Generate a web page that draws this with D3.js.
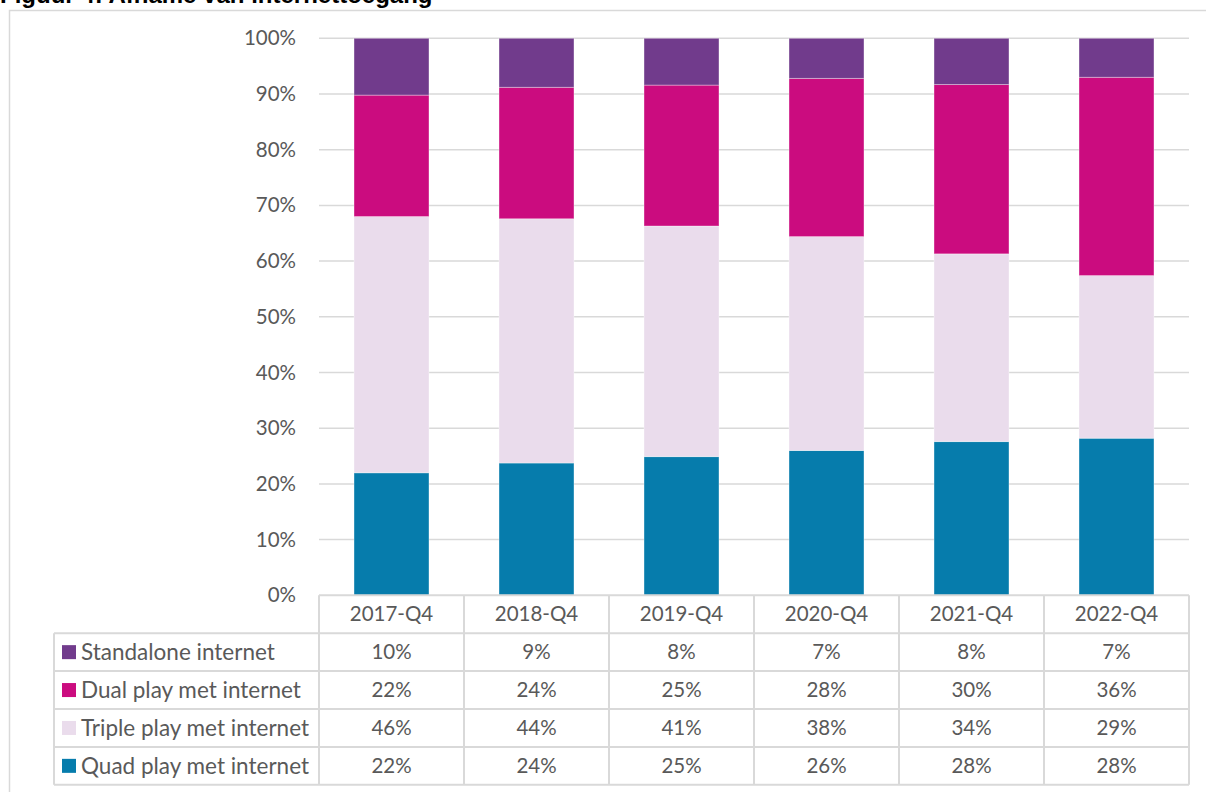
<!DOCTYPE html>
<html>
<head>
<meta charset="utf-8">
<script src="https://cdn.jsdelivr.net/npm/d3@7"></script>
<style>
	body { margin: 0; background: #fff; }
	svg { display: block; }
</style>
</head>
<body>
<div id="chart"></div>
<script>
const categories = ['2017-Q4', '2018-Q4', '2019-Q4', '2020-Q4', '2021-Q4', '2022-Q4'];
const seriesNames = ['Standalone internet', 'Dual play met internet', 'Triple play met internet', 'Quad play met internet'];
const seriesColors = ['#713b8c', '#cb0c7f', '#eadcec', '#067cac'];

const standalone = [10.2, 8.8, 8.4, 7.2, 8.3, 7.0];
const dualPlay = [21.8, 23.6, 25.3, 28.4, 30.4, 35.6];
const triplePlay = [46.0, 43.85, 41.4, 38.4, 33.7, 29.2];
const quadPlay = [22.0, 23.75, 24.9, 26.0, 27.6, 28.2];

const yTicks = [0, 10, 20, 30, 40, 50, 60, 70, 80, 90, 100];

const W = 1206;
const H = 792;
const textColor = '#595959';
const gridColor = '#d9d9d9';
const font = 'Lato, "Open Sans", sans-serif';
const numSize = '20.5px';
const labelSize = '22.5px';

const svg = d3
	.select('#chart')
	.append('svg')
	.attr('width', W)
	.attr('height', H);

// title, mostly cut off at the top
svg
	.append('text')
	.attr('x', 0)
	.attr('y', 2.5)
	.attr('font-family', 'Liberation Sans, Arial, sans-serif')
	.attr('font-weight', 'bold')
	.attr('font-size', '24px')
	.attr('fill', '#000')
	.text('Figuur 4: Afname van internettoegang');

// outer frame
svg
	.append('rect')
	.attr('x', 9.5)
	.attr('y', 10.5)
	.attr('width', 1210)
	.attr('height', 800)
	.attr('fill', 'none')
	.attr('stroke', gridColor)
	.attr('stroke-width', 1.5);

const plot = { left: 319, right: 1189, top: 38.3, bottom: 595.3 };

const x = d3.scaleBand().domain(categories).range([plot.left, plot.right]).paddingInner(0.483).paddingOuter(0.2415);
const band = d3.scaleBand().domain(categories).range([plot.left, plot.right]);
const y = d3.scaleLinear().domain([0, 100]).range([plot.bottom, plot.top]);

// gridlines
svg
	.append('g')
	.selectAll('line')
	.data(yTicks.filter((t) => t > 0))
	.enter()
	.append('line')
	.attr('x1', plot.left)
	.attr('x2', plot.right)
	.attr('y1', (d) => y(d))
	.attr('y2', (d) => y(d))
	.attr('stroke', gridColor)
	.attr('stroke-width', 1.5);

// y axis labels
const yAxis = svg
	.append('g')
	.attr('transform', `translate(${plot.left - 23},0)`)
	.call(d3.axisLeft(y).tickValues(yTicks).tickSize(0).tickPadding(0).tickFormat((d) => d + '%'));
yAxis.select('.domain').remove();
yAxis
	.selectAll('text')
	.attr('font-family', font)
	.attr('font-size', numSize)
	.attr('fill', textColor);

// stacked bars
const table = categories.map((c, i) => ({
	cat: c,
	quad: quadPlay[i],
	triple: triplePlay[i],
	dual: dualPlay[i],
	standalone: standalone[i],
}));
const keys = ['quad', 'triple', 'dual', 'standalone'];
const keyColor = { standalone: seriesColors[0], dual: seriesColors[1], triple: seriesColors[2], quad: seriesColors[3] };
const stacked = d3.stack().keys(keys)(table);

svg
	.append('g')
	.selectAll('g')
	.data(stacked)
	.enter()
	.append('g')
	.attr('fill', (s) => keyColor[s.key])
	.selectAll('rect')
	.data((s) => s)
	.enter()
	.append('rect')
	.attr('x', (d) => x(d.data.cat))
	.attr('width', x.bandwidth())
	.attr('y', (d) => y(d[1]))
	.attr('height', (d) => y(d[0]) - y(d[1]))
	.attr('stroke', 'rgba(255,255,255,0.35)')
	.attr('stroke-width', 1);

// data table below the plot
const rowH = 37.9;
const tableLeft = 54;
const tableG = svg.append('g').attr('font-family', font).attr('fill', textColor);
const rows = [standalone, dualPlay, triplePlay, quadPlay];
const rowTop = (r) => plot.bottom + rowH * (r + 1);

// header row cells
tableG
	.selectAll('.hdr')
	.data(categories)
	.enter()
	.append('text')
	.attr('class', 'hdr')
	.attr('x', (d) => band(d) + band.bandwidth() / 2)
	.attr('y', plot.bottom + rowH / 2)
	.attr('dy', '0.35em')
	.attr('text-anchor', 'middle')
	.attr('font-size', numSize)
	.text((d) => d);

// series rows
rows.forEach((vals, r) => {
	const cy = rowTop(r) + rowH / 2;
	tableG
		.append('rect')
		.attr('x', 62)
		.attr('y', cy - 7)
		.attr('width', 14)
		.attr('height', 14)
		.attr('fill', seriesColors[r]);
	tableG
		.append('text')
		.attr('x', 81)
		.attr('y', cy)
		.attr('dy', '0.35em')
		.attr('font-size', labelSize)
		.text(seriesNames[r]);
	tableG
		.selectAll(null)
		.data(vals)
		.enter()
		.append('text')
		.attr('x', (d, i) => band(categories[i]) + band.bandwidth() / 2)
		.attr('y', cy)
		.attr('dy', '0.35em')
		.attr('text-anchor', 'middle')
		.attr('font-size', numSize)
		.text((d) => Math.round(d) + '%');
});

// table grid lines
const lines = svg.append('g').attr('stroke', gridColor).attr('stroke-width', 2);
lines.append('line').attr('x1', plot.left).attr('x2', plot.right).attr('y1', plot.bottom).attr('y2', plot.bottom);
for (let r = 0; r <= rows.length; r++) {
	lines.append('line').attr('x1', tableLeft).attr('x2', plot.right).attr('y1', rowTop(r)).attr('y2', rowTop(r));
}
lines.append('line').attr('x1', tableLeft).attr('x2', tableLeft).attr('y1', rowTop(0)).attr('y2', rowTop(rows.length));
categories.forEach((c) => {
	lines.append('line').attr('x1', band(c)).attr('x2', band(c)).attr('y1', plot.bottom).attr('y2', rowTop(rows.length));
});
lines.append('line').attr('x1', plot.right).attr('x2', plot.right).attr('y1', plot.bottom).attr('y2', rowTop(rows.length));
</script>
</body>
</html>
